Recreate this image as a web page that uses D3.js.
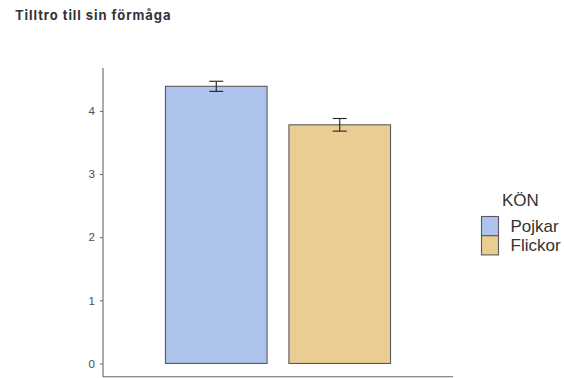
<!DOCTYPE html>
<html>
<head>
<meta charset="utf-8">
<script src="https://cdn.jsdelivr.net/npm/d3@7"></script>
<style>
  html, body { margin: 0; padding: 0; background: #fff; }
  svg { display: block; }
</style>
</head>
<body>
<svg id="chart" width="564" height="378"></svg>
<script>
// Mean confidence score per gender, with standard error
const categories = ["Pojkar", "Flickor"];
const means = [4.39, 3.78];
const errors = [0.08, 0.10];
const fills = ["#aec4ec", "#e9cd93"];
const yTicks = [0, 1, 2, 3, 4];
const title = "Tilltro till sin förmåga";
const legendTitle = "KÖN";

(function () {
  const svg = d3.select("#chart");

  // Panel extents
  const panelLeft = 103, panelRight = 453, panelTop = 68, panelBottom = 376.7;

  const x = d3.scaleBand()
    .domain(categories)
    .range([panelLeft, panelRight])
    .paddingInner(0.177)
    .paddingOuter(0.506);

  const y = d3.scaleLinear()
    .domain([-0.21, 4.68])
    .range([panelBottom, panelTop]);

  const color = d3.scaleOrdinal().domain(categories).range(fills);

  // Title
  const titleText = svg.append("text")
    .attr("x", 15)
    .attr("y", 20)
    .attr("font-family", "Inter, 'Liberation Sans', sans-serif")
    .attr("font-weight", 700)
    .attr("font-size", 13)
    .attr("fill", "#333")
    .text(title);
  // stretch the title to its typeset width
  titleText.attr("textLength", 155.5).attr("lengthAdjust", "spacing");

  // Bars
  const data = categories.map((c, i) => ({ cat: c, mean: means[i], err: errors[i] }));

  svg.append("g").selectAll("rect")
    .data(data)
    .join("rect")
    .attr("x", d => x(d.cat))
    .attr("y", d => y(d.mean))
    .attr("width", x.bandwidth())
    .attr("height", d => y(0) - y(d.mean))
    .attr("fill", d => color(d.cat))
    .attr("stroke", "#595959")
    .attr("stroke-width", 1.1);

  // Error bars
  const capHalf = 7;
  const eb = svg.append("g").attr("stroke", "#222").attr("stroke-width", 1.1).attr("fill", "none");
  data.forEach(d => {
    const cx = x(d.cat) + x.bandwidth() / 2;
    const y1 = y(d.mean + d.err), y0 = y(d.mean - d.err);
    eb.append("line").attr("x1", cx).attr("x2", cx).attr("y1", y1).attr("y2", y0);
    eb.append("line").attr("x1", cx - capHalf).attr("x2", cx + capHalf).attr("y1", y1).attr("y2", y1);
    eb.append("line").attr("x1", cx - capHalf).attr("x2", cx + capHalf).attr("y1", y0).attr("y2", y0);
  });

  // Y axis
  const yAxis = svg.append("g")
    .attr("transform", `translate(${panelLeft},0)`)
    .call(d3.axisLeft(y).tickValues(yTicks).tickSize(3).tickPadding(5).tickFormat(d3.format("d")));
  yAxis.select(".domain").attr("d", `M0,${panelTop}V${panelBottom}`).attr("stroke", "#666").attr("stroke-width", 1.1);
  yAxis.selectAll(".tick line").attr("stroke", "#666");
  yAxis.selectAll(".tick text")
    .attr("fill", "#4d4d4d")
    .attr("font-family", "'Liberation Sans', Arial, sans-serif")
    .attr("font-size", 11.5);

  // X axis line (no ticks or labels)
  svg.append("line")
    .attr("x1", panelLeft).attr("x2", panelRight)
    .attr("y1", panelBottom).attr("y2", panelBottom)
    .attr("stroke", "#666").attr("stroke-width", 1.1);

  // Legend
  const lg = svg.append("g").attr("font-family", "'Liberation Sans', Arial, sans-serif");
  lg.append("text")
    .attr("x", 502).attr("y", 205.5)
    .attr("font-size", 17).attr("fill", "#333")
    .text(legendTitle);

  const keyW = 17, keyH = 19.2, keyX = 481.5, keyY = 216.5;
  categories.forEach((c, i) => {
    lg.append("rect")
      .attr("x", keyX).attr("y", keyY + i * keyH)
      .attr("width", keyW).attr("height", keyH)
      .attr("fill", color(c))
      .attr("stroke", "#595959").attr("stroke-width", 1.1);
    lg.append("text")
      .attr("x", 510.5).attr("y", keyY + i * keyH + 15.2)
      .attr("font-size", 17).attr("fill", "#333")
      .text(c);
  });
})();
</script>
</body>
</html>
